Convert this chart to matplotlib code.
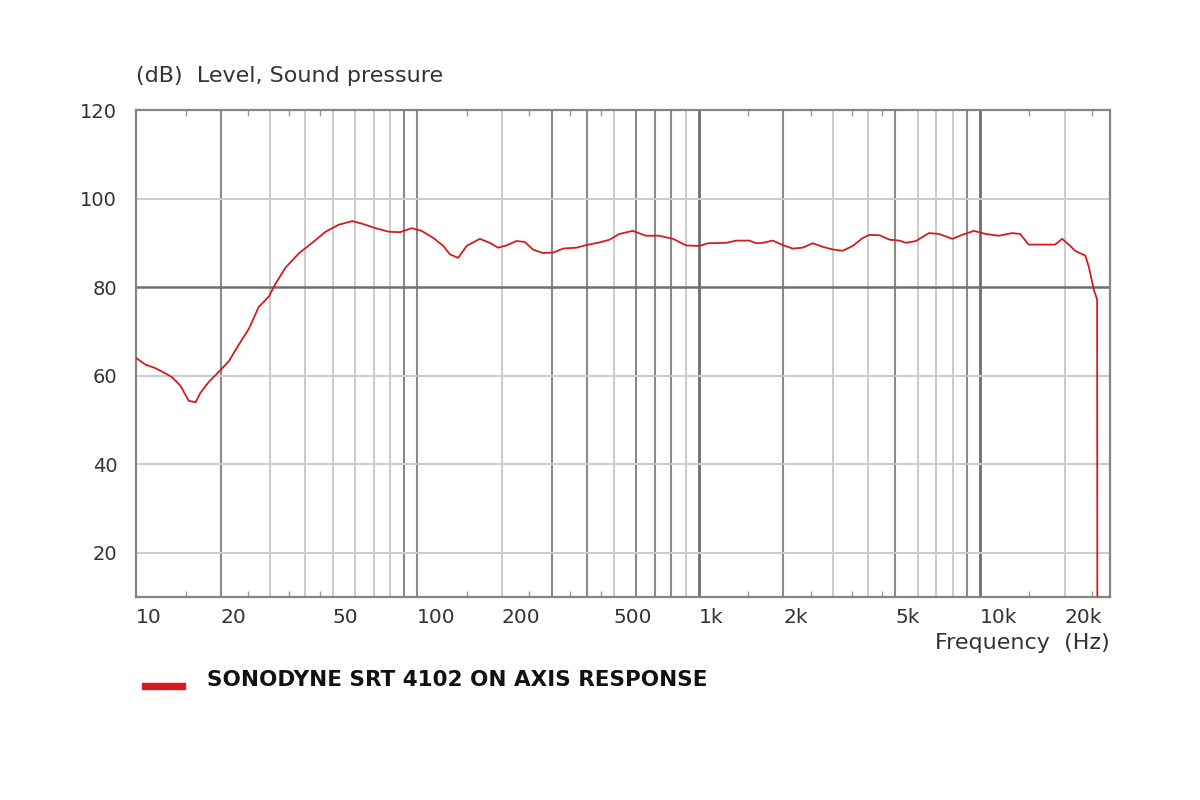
import matplotlib
matplotlib.use("Agg")
import matplotlib.pyplot as plt
from matplotlib.patches import Rectangle

# ---- data ----
freq_hz = [10, 10.8, 11.7, 12.4, 13.4, 14.4, 15.4, 16.3, 16.9, 18.1, 20, 21.4, 23.2, 25.2,
           27.3, 29.7, 31.3, 34, 37.9, 42.3, 47.2, 52.6, 58.7, 63.8, 71.1, 79.3, 86.8,
           95.5, 103.6, 114, 123.7, 130.6, 139.8, 149.7, 166.8, 181, 193.7, 207.5, 225,
           241, 257.5, 279, 304, 330, 368, 399, 445, 482, 523, 583, 649, 724, 811, 904,
           1008, 1079, 1254, 1361, 1517, 1603, 1690, 1834, 1991, 2161, 2345, 2545, 2762,
           2998, 3254, 3531, 3832, 4056, 4402, 4778, 5185, 5450, 5920, 6590, 7160, 7980,
           8650, 9520, 10480, 11670, 13020, 13900, 14900, 17100, 18500, 19600, 20700,
           21800, 23700, 24400, 25400, 26100, 26150]
level_db = [64.0, 62.5, 61.7, 60.9, 59.7, 57.7, 54.3, 54.0, 56.0, 58.5, 61.3, 63.3, 67.0, 70.6,
            75.5, 77.9, 80.7, 84.4, 87.6, 90.0, 92.5, 94.1, 94.9, 94.3, 93.3, 92.5, 92.4,
            93.3, 92.7, 91.1, 89.3, 87.4, 86.6, 89.3, 90.9, 90.0, 88.9, 89.4, 90.4,
            90.2, 88.5, 87.7, 87.8, 88.7, 88.9, 89.5, 90.1, 90.7, 92.0, 92.7, 91.6, 91.6, 90.9, 89.4,
            89.3, 89.9, 90.0, 90.5, 90.5, 89.9, 90.0, 90.5, 89.5, 88.7, 88.9, 89.9, 89.1,
            88.5, 88.2, 89.3, 91.1, 91.8, 91.7, 90.7, 90.5, 90.0, 90.4, 92.2, 92.0, 90.9,
            91.8, 92.7, 92.0, 91.6, 92.2, 92.0, 89.6, 89.6, 89.6, 90.9, 89.6,
            88.2, 87.1, 84.5, 79.4, 77.2, 0.0]

xtick_vals = [10, 20, 50, 100, 200, 500, 1000, 2000, 5000, 10000, 20000]
xtick_labels = ["10", "20", "50", "100", "200", "500", "1k", "2k", "5k", "10k", "20k"]
ytick_vals = [20, 40, 60, 80, 100, 120]

grid_light_x = [30, 40, 50, 60, 70, 80, 200, 500, 900, 3000, 4000, 6000, 7000, 8000, 20000]
grid_dark_x = [20, 90, 100, 300, 400, 600, 700, 800, 2000, 5000, 9000]
grid_thick_x = [1000, 10000]
minor_tick_x = [15, 25, 35, 45, 150, 250, 350, 450, 1500, 2500, 3500, 4500, 15000, 25000]
grid_light_y = [20, 40, 60, 100]
grid_thick_y = [80]

series_label = "SONODYNE SRT 4102 ON AXIS RESPONSE"

# ---- figure ----
plt.rcParams['font.family'] = ['DejaVu Sans']
fig = plt.figure(figsize=(12, 8), dpi=100)
ax = fig.add_axes([136/1200, 1-597/800, (1110-136)/1200, (597-110)/800])
ax.set_xscale('log')
ax.set_xlim(10, 29000)
ax.set_ylim(10, 120)

for f in grid_light_x:
    ax.axvline(f, color='#cbcbcb', lw=1.4, zorder=1)
for f in grid_dark_x:
    ax.axvline(f, color='#8a8a8a', lw=1.5, zorder=1)
for f in grid_thick_x:
    ax.axvline(f, color='#6e6e6e', lw=2.0, zorder=1)
for v in grid_light_y:
    ax.axhline(v, color='#cbcbcb', lw=1.4, zorder=1)
for v in grid_thick_y:
    ax.axhline(v, color='#6e6e6e', lw=1.8, zorder=1)

ax.plot(freq_hz, level_db, color='#d41c1c', lw=1.3, zorder=3)

for s in ax.spines.values():
    s.set_color('#858585')
    s.set_linewidth(1.6)

ax.xaxis.set_major_locator(matplotlib.ticker.FixedLocator(minor_tick_x))
ax.xaxis.set_minor_locator(matplotlib.ticker.NullLocator())
ax.tick_params(axis='x', which='major', direction='in', length=4, width=1,
               color='#999999', top=True, bottom=True, labelbottom=False)
ax.set_yticks(ytick_vals)
ax.set_yticklabels([str(v) for v in ytick_vals])
ax.tick_params(axis='y', length=0, pad=13.5, labelsize=14, labelcolor='#333333')

for v, lab in zip(xtick_vals, xtick_labels):
    ax.text(v, -0.022, lab, transform=ax.get_xaxis_transform(), ha='left', va='top',
            fontsize=14.5, color='#333333')

fig.text(136/1200, 1-76/800, "(dB)  Level, Sound pressure", ha='left', va='center',
         fontsize=16, color='#333333')
fig.text(1110/1200, 1-643/800, "Frequency  (Hz)", ha='right', va='center',
         fontsize=16, color='#333333')

fig.patches.append(Rectangle((142/1200, 1-689/800), 43/1200, 6/800,
                             transform=fig.transFigure, color='#d41c1c'))
fig.text(207/1200, 1-680/800, series_label, ha='left', va='center',
         fontsize=15.5, fontweight='bold', color='#111111')

fig.savefig("out.png", dpi=100, facecolor='white')
